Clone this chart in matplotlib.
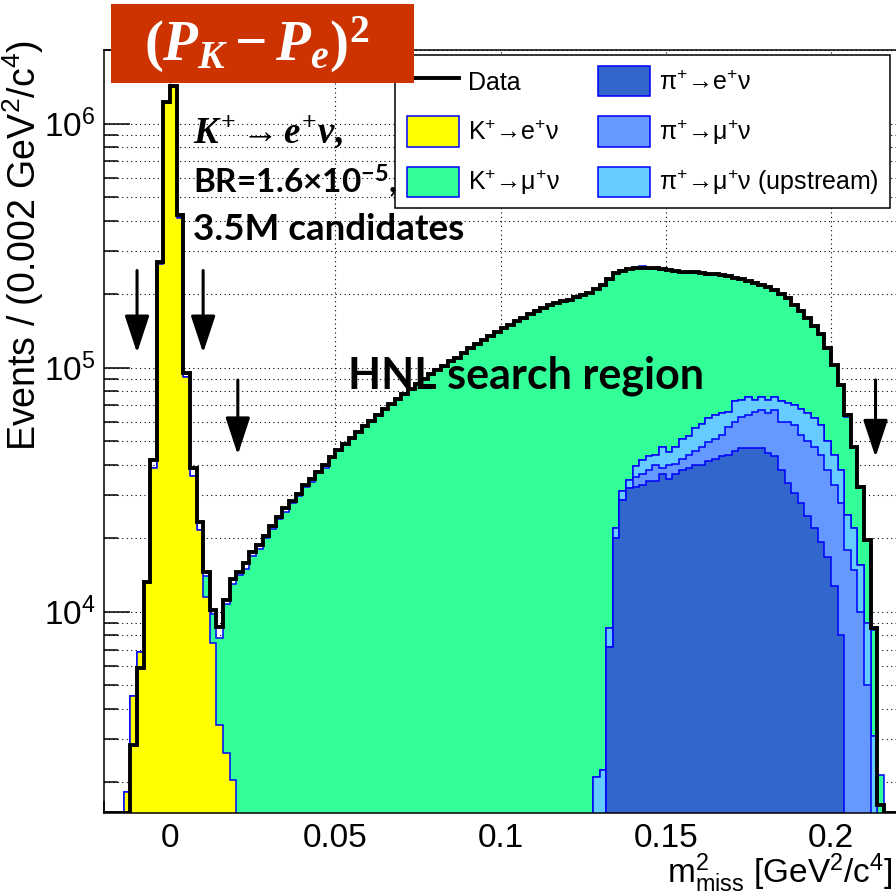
import numpy as np
import matplotlib
matplotlib.use("Agg")
import matplotlib.pyplot as plt
from matplotlib.patches import Rectangle, Patch
from matplotlib.lines import Line2D
from matplotlib.ticker import FixedLocator, LogLocator, NullFormatter, FuncFormatter

plt.rcParams['font.family'] = ['Liberation Sans', 'DejaVu Sans']
plt.rcParams['mathtext.fontset'] = 'custom'
plt.rcParams['mathtext.it'] = 'Liberation Serif:italic:bold'
plt.rcParams['mathtext.rm'] = 'Liberation Serif:bold'
plt.rcParams['mathtext.bf'] = 'Liberation Serif:bold'

# 120 bins of 0.002 GeV^2/c^4 from -0.02 to 0.22
edges = np.round(np.arange(121) * 0.002 - 0.02, 4)

data = [0, 0, 0, 0, 2850, 5900, 13300, 42000, 270000, 1220000,
        1420000, 420000, 95000, 39000, 23400, 14600, 10200, 8700, 11200, 13600,
        14600, 15800, 17500, 18800, 20500, 22500, 24500, 26500, 28500, 30500,
        33000, 35000, 37500, 40000, 43000, 46000, 48500, 51500, 54500, 57500,
        60500, 64000, 67500, 71000, 74500, 78000, 82000, 86000, 90000, 94000,
        98000, 102000, 106000, 110000, 115000, 120000, 125000, 130000, 135000, 140000,
        145000, 150000, 155000, 160000, 166000, 171000, 176000, 180000, 184000, 187000,
        190000, 194000, 198000, 203000, 210000, 218000, 230000, 244000, 250000, 254000,
        256000, 257000, 257000, 255000, 253000, 251000, 248000, 247000, 246000, 246000,
        245000, 243000, 241000, 239000, 237000, 234000, 231000, 227000, 223000, 219000,
        214000, 208000, 200000, 192000, 180000, 170000, 160000, 148000, 137000, 120000,
        103000, 85000, 64000, 47500, 32500, 19700, 8600, 1620, 0, 0]

# top of the simulated stack
mc_total = [0, 0, 0, 1830, 4530, 6850, 13300, 39000, 265000, 1210000,
            1410000, 410000, 92000, 36000, 21700, 14000, 9800, 7800, 10800, 13000,
            14200, 15000, 17000, 18100, 20000, 21800, 24000, 25700, 28000, 29700,
            32500, 34000, 37000, 39000, 42500, 45500, 48000, 51000, 54000, 57000,
            60000, 63500, 67000, 70500, 74000, 77500, 81500, 85500, 89500, 93500,
            97500, 101500, 105500, 109500, 114500, 119500, 124500, 129500, 134500, 139500,
            144500, 149500, 154500, 159500, 165500, 170500, 175500, 179500, 183500, 186500,
            189500, 193500, 197500, 202500, 209500, 217500, 229500, 243000, 251000, 254000,
            256000, 260000, 257000, 254000, 252000, 250000, 247000, 245000, 244000, 244500,
            244000, 242000, 240000, 238000, 236000, 233000, 230000, 226000, 222000, 218000,
            213000, 207000, 199000, 191000, 179000, 169000, 159000, 147000, 136000, 119000,
            102000, 84000, 63000, 47000, 32000, 19500, 8400, 2150, 0, 0]

k_enu = [0] * 3 + [1830, 4530, 6850, 13300, 39000, 265000, 1210000, 1410000, 410000,
                   92000, 36000, 21700, 11500, 7460, 3440, 2630, 2050] + [0] * 100

pi_enu = [0] * 74 + [0, 0, 7200, 20000, 28800, 32000, 32500, 33000, 34200, 34200,
                     36600, 35000, 36600, 38200, 38800, 40000, 40000, 41600, 42300, 43300,
                     44000, 45400, 46800, 46800, 46800, 46800, 44800, 43300, 38200, 33700,
                     30600, 27900, 24600, 22000, 19400, 16800, 12700, 8050, 0, 0,
                     0, 0, 0] + [0] * 3

pi_munu = [0] * 74 + [0, 0, 0, 0, 0, 0, 3300, 3600, 4000, 5800,
                      2400, 5000, 3900, 4100, 5200, 5400, 7500, 8200, 8700, 9700,
                      13000, 14600, 16200, 17200, 19200, 20200, 20200, 23700, 21800, 26300,
                      27400, 25100, 25400, 25500, 24600, 21400, 20300, 19950, 18000, 14900,
                      10000, 5000, 0] + [0] * 3

pi_up = [0] * 74 + [2110, 2240, 1400, 2000, 2500, 2700, 3600, 5400, 5100, 4000,
                    8500, 5000, 7000, 8700, 8500, 11100, 11500, 12200, 13000, 12000,
                    9000, 13000, 11000, 12000, 8000, 9000, 9000, 9000, 13000, 12000,
                    12000, 15000, 15000, 14500, 14500, 11800, 11000, 10000, 7000, 7100,
                    5600, 4000, 3100] + [0] * 3

k_munu = np.array(mc_total) - np.array(k_enu) - np.array(pi_enu) - np.array(pi_munu) - np.array(pi_up)

ymin, ymax = 1500, 2.0e6
W = 896.0

fig = plt.figure(figsize=(8.96, 8.96), dpi=100)
ax = fig.add_axes([104 / W, 1 - 813 / W, 793 / W, 763 / W])

# stack: pi e nu, pi mu nu, pi mu nu upstream, K e nu, K mu nu (bottom to top)
layers = [pi_enu, pi_munu, pi_up, k_enu, k_munu]
colors = ['#3366cc', '#6699ff', '#66ccff', '#ffff00', '#33ff99']
cum = np.cumsum(np.array(layers, dtype=float), axis=0)
for i in range(len(layers) - 1, -1, -1):
    top = np.maximum(cum[i], 1.0)
    ax.stairs(top, edges, fill=True, baseline=1.0, color=colors[i], zorder=2)
    ax.stairs(top, edges, fill=False, baseline=1.0, color='#0000ff', lw=1.1, zorder=2)

ax.stairs(np.maximum(data, ymin), edges, color='black', lw=2.8, zorder=5)

ax.set_xlim(-0.02, 0.22)
ax.set_yscale('log')
ax.set_ylim(ymin, ymax)

ax.xaxis.set_major_locator(FixedLocator([0, 0.05, 0.1, 0.15, 0.2]))
ax.set_xticklabels(['0', '0.05', '0.1', '0.15', '0.2'])
ax.xaxis.set_minor_locator(FixedLocator(np.round(np.arange(-0.02, 0.221, 0.01), 3)))
ax.yaxis.set_major_locator(LogLocator(base=10))
ax.yaxis.set_minor_locator(LogLocator(base=10, subs=np.arange(2, 10)))
ax.yaxis.set_minor_formatter(NullFormatter())
ax.yaxis.set_major_formatter(FuncFormatter(lambda v, p: r'$\mathregular{10^{%d}}$' % round(np.log10(v))))

ax.tick_params(which='both', direction='in', width=1.1, color='black')
ax.tick_params(axis='x', which='major', length=16, pad=7, labelsize=24)
ax.tick_params(axis='x', which='minor', length=8.5)
ax.tick_params(axis='y', which='major', length=19, pad=6, labelsize=24)
ax.tick_params(axis='y', which='minor', length=10)
for s in ax.spines.values():
    s.set_linewidth(1.1)

ax.set_axisbelow(True)
ax.grid(True, which='major', axis='x', color='black', ls=(0, (1, 3)), lw=0.8)
ax.grid(True, which='both', axis='y', color='black', ls=(0, (1, 3)), lw=0.8)

# cut arrows
for x0, y0, y1 in [(-0.010, 2.5e5, 1.15e5), (0.010, 2.5e5, 1.15e5),
                   (0.0205, 8.9e4, 4.4e4), (0.2135, 8.9e4, 4.3e4)]:
    ax.annotate('', xy=(x0, y1), xytext=(x0, y0),
                arrowprops=dict(arrowstyle='-|>,head_length=1.15,head_width=0.38',
                                color='black', lw=2.2, mutation_scale=20,
                                shrinkA=0, shrinkB=0), zorder=6)

handles = [Line2D([], [], color='black', lw=2.8),
           Patch(facecolor='#ffff00', edgecolor='#0000ff', lw=1.1),
           Patch(facecolor='#33ff99', edgecolor='#0000ff', lw=1.1),
           Patch(facecolor='#3366cc', edgecolor='#0000ff', lw=1.1),
           Patch(facecolor='#6699ff', edgecolor='#0000ff', lw=1.1),
           Patch(facecolor='#66ccff', edgecolor='#0000ff', lw=1.1)]
labels = ['Data',
          r'K$\mathregular{^{+}}$→e$\mathregular{^{+}}$ν',
          r'K$\mathregular{^{+}}$→μ$\mathregular{^{+}}$ν',
          r'π$\mathregular{^{+}}$→e$\mathregular{^{+}}$ν',
          r'π$\mathregular{^{+}}$→μ$\mathregular{^{+}}$ν',
          r'π$\mathregular{^{+}}$→μ$\mathregular{^{+}}$ν (upstream)']
leg = ax.legend(handles, labels, ncol=2, loc='upper right', bbox_to_anchor=(0.991, 0.9934),
                fontsize=18, fancybox=False, edgecolor='black', framealpha=1,
                borderpad=0.45, handlelength=2.1, handleheight=1.48, labelspacing=0.8,
                handletextpad=0.35, columnspacing=1.5, borderaxespad=0)
leg.get_frame().set_linewidth(1.1)
leg.set_zorder(7)

# axis titles
fig.text(23 / W, 1 - 40 / W, r'Events / (0.002 GeV$\mathregular{^{2}}$/c$\mathregular{^{4}}$)',
         rotation=90, ha='center', va='top', fontsize=27)
fig.text(893 / W, 1 - 883 / W,
         r'$\mathregular{m^{2}_{miss}}$ [GeV$\mathregular{^{2}}$/c$\mathregular{^{4}}$]',
         ha='right', va='baseline', fontsize=24)

# annotations
fig.text(193 / W, 1 - 143 / W, r'$K^{+}\rightarrow e^{+}\nu,$', fontsize=26.5,
         ha='left', va='baseline', zorder=8)
fig.text(193 / W, 1 - 193 / W, r'BR=1.6×10$\mathregular{^{-5}}$,', fontsize=24,
         family=['Lato', 'DejaVu Sans'], fontweight='bold', ha='left', va='baseline', zorder=8)
fig.text(193 / W, 1 - 240 / W, '3.5M candidates', fontsize=26.5,
         family=['Lato', 'DejaVu Sans'], fontweight='bold', ha='left', va='baseline', zorder=8)
fig.text(348 / W, 1 - 388 / W, 'HNL search region', fontsize=31,
         family=['Lato', 'DejaVu Sans'], fontweight='bold', ha='left', va='baseline', zorder=8)

fig.patches.append(Rectangle((111 / W, 1 - 83 / W), 303 / W, 79 / W, transform=fig.transFigure,
                             facecolor='#cc3300', edgecolor='none', zorder=9))
fig.text(257 / W, 1 - 45 / W, r'$(P_{K}-P_{e})^{2}$', color='white', fontsize=41,
         ha='center', va='center', zorder=10)

fig.savefig('out.png', dpi=100)
